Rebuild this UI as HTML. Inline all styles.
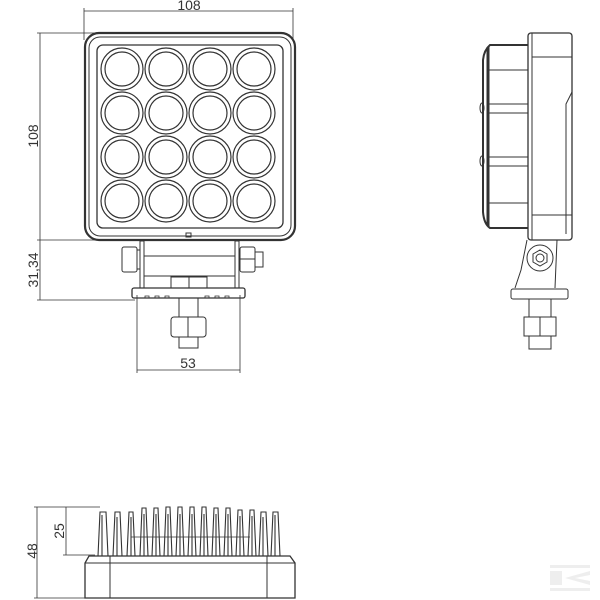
<!DOCTYPE html>
<html><head><meta charset="utf-8"><style>
html,body{margin:0;padding:0;background:#fff;}
svg{display:block;}
text{font-family:"Liberation Sans",sans-serif;fill:#333;font-size:14px;}
</style></head><body>
<svg width="600" height="600" viewBox="0 0 600 600" xmlns="http://www.w3.org/2000/svg" fill="none" stroke="#333" stroke-width="1">
<!-- dimensions front -->
<line x1="84" y1="11" x2="293" y2="11" stroke-width="0.8"/>
<line x1="84" y1="8" x2="84" y2="40" stroke-width="0.8"/>
<line x1="293" y1="8" x2="293" y2="40" stroke-width="0.8"/>
<text x="189" y="10" text-anchor="middle" stroke="none">108</text>
<line x1="40" y1="33" x2="40" y2="300" stroke-width="0.8"/>
<line x1="37" y1="33" x2="100" y2="33" stroke-width="0.8"/>
<line x1="37" y1="240" x2="100" y2="240" stroke-width="0.8"/>
<line x1="37" y1="300" x2="135" y2="300" stroke-width="0.8"/>
<text transform="translate(38,136) rotate(-90)" text-anchor="middle" stroke="none">108</text>
<text transform="translate(38,270) rotate(-90)" text-anchor="middle" stroke="none">31,34</text>
<line x1="137" y1="370" x2="240" y2="370" stroke-width="0.8"/>
<line x1="137" y1="295" x2="137" y2="373" stroke-width="0.8"/>
<line x1="240" y1="295" x2="240" y2="373" stroke-width="0.8"/>
<text x="188" y="368" text-anchor="middle" stroke="none">53</text>
<!-- front housing -->
<rect x="85" y="33" width="210" height="207" rx="14" stroke-width="2.2"/>
<rect x="89" y="37" width="202" height="199" rx="11"/>
<rect x="97" y="45" width="186" height="183" rx="6" stroke-width="1.3"/>
<g stroke-width="1.2">
<circle cx="122" cy="69" r="21"/><circle cx="122" cy="69" r="17"/>
<circle cx="166" cy="69" r="21"/><circle cx="166" cy="69" r="17"/>
<circle cx="210" cy="69" r="21"/><circle cx="210" cy="69" r="17"/>
<circle cx="254" cy="69" r="21"/><circle cx="254" cy="69" r="17"/>
<circle cx="122" cy="113" r="21"/><circle cx="122" cy="113" r="17"/>
<circle cx="166" cy="113" r="21"/><circle cx="166" cy="113" r="17"/>
<circle cx="210" cy="113" r="21"/><circle cx="210" cy="113" r="17"/>
<circle cx="254" cy="113" r="21"/><circle cx="254" cy="113" r="17"/>
<circle cx="122" cy="157" r="21"/><circle cx="122" cy="157" r="17"/>
<circle cx="166" cy="157" r="21"/><circle cx="166" cy="157" r="17"/>
<circle cx="210" cy="157" r="21"/><circle cx="210" cy="157" r="17"/>
<circle cx="254" cy="157" r="21"/><circle cx="254" cy="157" r="17"/>
<circle cx="122" cy="201" r="21"/><circle cx="122" cy="201" r="17"/>
<circle cx="166" cy="201" r="21"/><circle cx="166" cy="201" r="17"/>
<circle cx="210" cy="201" r="21"/><circle cx="210" cy="201" r="17"/>
<circle cx="254" cy="201" r="21"/><circle cx="254" cy="201" r="17"/>
</g>
<rect x="186" y="233" width="5" height="4"/>
<!-- bracket -->
<rect x="140" y="241" width="4" height="47"/>
<rect x="235" y="241" width="4" height="47"/>
<rect x="144" y="256" width="91" height="20"/>
<rect x="122" y="247" width="15" height="25" rx="2"/>
<rect x="137" y="250" width="3" height="19"/>
<rect x="240" y="247" width="15" height="25" rx="2"/>
<line x1="240" y1="259" x2="255" y2="259"/>
<rect x="255" y="252" width="8" height="15"/>
<rect x="171" y="277" width="36" height="11"/>
<line x1="189" y1="277" x2="189" y2="288"/>
<rect x="132" y="288" width="113" height="10" rx="2" stroke-width="1.3"/>
<path d="M145 298 v-2 h4 v2 M155 298 v-2 h4 v2 M165 298 v-2 h4 v2 M205 298 v-2 h4 v2 M215 298 v-2 h4 v2 M225 298 v-2 h4 v2" stroke-width="0.8"/>
<rect x="179" y="298" width="19" height="50"/>
<rect x="171" y="317" width="35" height="20" rx="3" fill="#fff"/>
<line x1="188" y1="317" x2="188" y2="337"/>
<!-- side view -->
<rect x="528" y="33" width="44" height="207" rx="3" stroke-width="1.3"/>
<line x1="532" y1="33" x2="532" y2="240"/>
<line x1="532" y1="57" x2="572" y2="57"/>
<line x1="532" y1="215" x2="572" y2="215"/>
<path d="M572 92 l-6 12 v130" />
<path d="M528 45 H490 Q484 50 483 60 V212 Q484 224 490 228 H528" stroke-width="2"/>
<line x1="488" y1="47" x2="488" y2="226" stroke-width="3"/>
<line x1="488" y1="70" x2="528" y2="70"/>
<line x1="488" y1="104" x2="528" y2="104"/><line x1="488" y1="113" x2="528" y2="113"/>
<line x1="488" y1="157" x2="528" y2="157"/><line x1="488" y1="166" x2="528" y2="166"/>
<line x1="488" y1="203" x2="528" y2="203"/>
<ellipse cx="482" cy="108" rx="2" ry="5"/><ellipse cx="482" cy="161" rx="2" ry="5"/>
<path d="M527 240 l-6 30 l-6 18 M557 240 l-2 48"/>
<circle cx="540" cy="258" r="13"/>
<polygon points="540,250 547,254 547,262 540,266 533,262 533,254"/>
<circle cx="540" cy="258" r="4"/>
<rect x="511" y="289" width="57" height="10" rx="2"/>
<rect x="529" y="299" width="22" height="50"/>
<rect x="524" y="317" width="32" height="19" fill="#fff"/>
<line x1="540" y1="317" x2="540" y2="336"/>
<!-- bottom view -->
<line x1="37" y1="507" x2="37" y2="598" stroke-width="0.8"/>
<line x1="34" y1="507" x2="100" y2="507" stroke-width="0.8"/>
<line x1="66" y1="507" x2="66" y2="555" stroke-width="0.8"/>
<line x1="63" y1="555" x2="95" y2="555" stroke-width="0.8"/>
<line x1="34" y1="598" x2="90" y2="598" stroke-width="0.8"/>
<text transform="translate(64,531) rotate(-90)" text-anchor="middle" stroke="none">25</text>
<text transform="translate(37,551) rotate(-90)" text-anchor="middle" stroke="none">48</text>
<path d="M85 598 V563 L89 556 H290 L295 563 V598 Z" stroke-width="1.3"/>
<line x1="85" y1="563" x2="295" y2="563"/>
<line x1="110" y1="556" x2="110" y2="598"/><line x1="267" y1="556" x2="267" y2="598"/>
<g stroke-width="1.1">
<path d="M98 556 L100 512 H106 L108 556 M102 515 V556"/>
<path d="M113 556 L115 512 H120 L122 556 M117 517 V556"/>
<path d="M127 556 L129 512 H133 L135 556 M131 517 V556"/>
<path d="M140 556 L142 508 H146 L148 556 M144 514 V556"/>
<path d="M152 556 L154 508 H158 L160 556 M156 514 V556"/>
<path d="M164 556 L166 507 H170 L172 556 M168 514 V556"/>
<path d="M176 556 L178 507 H182 L184 556 M180 514 V556"/>
<path d="M188 556 L190 507 H194 L196 556 M192 514 V556"/>
<path d="M200 556 L202 507 H206 L208 556 M204 514 V556"/>
<path d="M212 556 L214 508 H218 L220 556 M216 514 V556"/>
<path d="M224 556 L226 508 H230 L232 556 M228 514 V556"/>
<path d="M236 556 L238 510 H242 L244 556 M240 516 V556"/>
<path d="M248 556 L250 510 H254 L256 556 M252 516 V556"/>
<path d="M259 556 L261 512 H266 L268 556 M263 517 V556"/>
<path d="M271 556 L273 512 H278 L280 556 M275 515 V556"/>
</g>
<line x1="131" y1="537" x2="250" y2="537" stroke-width="0.7"/>
<!-- watermark -->
<g stroke="none" fill="#eee">
<rect x="550" y="565" width="40" height="3"/>
<rect x="550" y="588" width="40" height="3"/>
<rect x="550" y="571" width="12" height="14"/>
<polygon points="565,578 590,571 590,575 575,578 590,581 590,585"/>
</g>
</svg>
</body></html>
